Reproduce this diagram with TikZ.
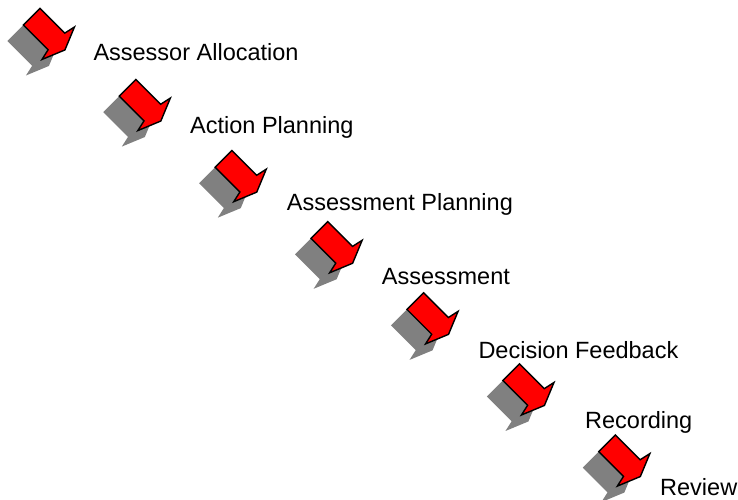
\documentclass[tikz,border=0pt]{standalone}
\usepackage{fontspec}
\setmainfont{Liberation Sans}
\begin{document}
\begin{tikzpicture}
     [x=1pt,y=-1pt,
      % Styles
        stage shape/.style={insert path={(0,-11.8) -- (35,-11.8) -- (37.5,-23) -- (47,0)
                                         -- (37.5,23) -- (35,11.8) -- (0,11.8) -- cycle}},
        stage arrow/.style={fill=red,draw=black,line width=1.4pt,line join=miter},
        stage shadow/.style={fill=black!50},
        stage label/.style={anchor=base west,inner sep=0pt,font=\fontsize{23.5}{28}\selectfont}]
    \useasboundingbox (0,0) rectangle (738,499);
    % the seven arrows, shadow first
    \foreach \i in {0,...,6}{
      \begin{scope}[shift={(15.7+95.9*\i,32.7+71.1*\i)},rotate=-45]
        \path[stage shadow,stage shape];
      \end{scope}
      \begin{scope}[shift={(31.7+95.9*\i,16.7+71.1*\i)},rotate=-45]
        \path[stage arrow,stage shape];
      \end{scope}
    }
    % labels
    \node[stage label] (alloc)    at (93.3,60)    {Assessor Allocation};
    \node[stage label] (action)   at (190,133.3)  {Action Planning};
    \node[stage label] (planning) at (286.7,210.7) {Assessment Planning};
    \node[stage label] (assess)   at (381.7,284.3) {Assessment};
    \node[stage label] (decision) at (478.3,358.3) {Decision Feedback};
    \node[stage label] (record)   at (585,428.3)  {Recording};
    \node[stage label] (review)   at (660,495)    {Review};
\end{tikzpicture}
\end{document}
